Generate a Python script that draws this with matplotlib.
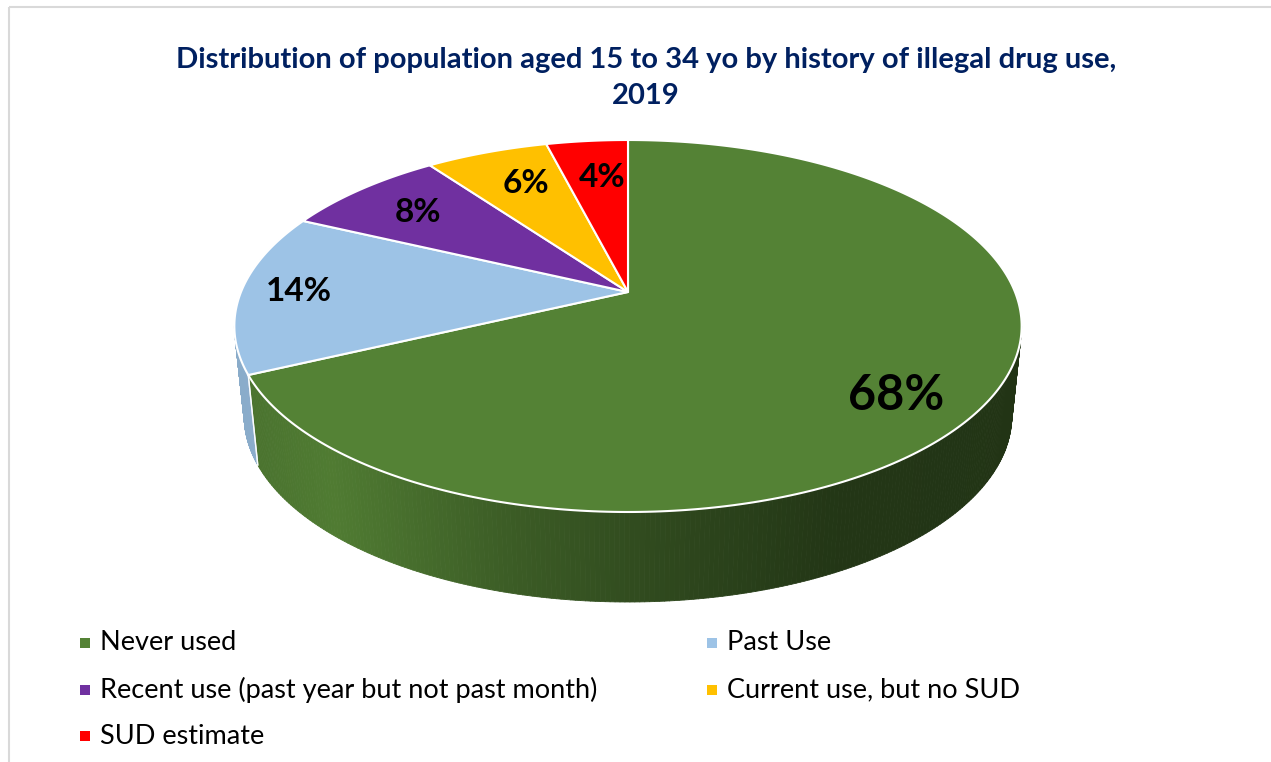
import matplotlib
matplotlib.use("Agg")
import matplotlib.pyplot as plt
import matplotlib.patches as patches
from matplotlib.collections import PolyCollection
import numpy as np
from matplotlib import rcParams

rcParams['font.family'] = ['Lato', 'DejaVu Sans']

# data
categories = ['Never used', 'Past Use', 'Recent use (past year but not past month)',
              'Current use, but no SUD', 'SUD estimate']
shares = [68, 14, 8, 6, 4]
labels = ['68%', '14%', '8%', '6%', '4%']
colors = ['#548235', '#9DC3E6', '#7030A0', '#FFC000', '#FF0000']

title = 'Distribution of population aged 15 to 34 yo by history of illegal drug use,\n2019'

# pie geometry (pixel space), perspective tilt
CX, CY = 628.0, 292.0      # apex of the slices
A, B = 387.0, 126.4        # horizontal / depth scale
P = 0.1828                 # perspective factor
DEPTH = 90.0               # thickness of the disc
DRIFT = 0.025              # side edges converge slightly

# label placement (radius in disc units, nudges in px)
label_r = [0.76, 0.85, 0.75, 0.75, 0.75]
label_dx = [0, 0, -4, 8, 6]
label_dy = [24, 0, 0, 0, 3]
label_size = [35, 24, 24, 24, 24]


def proj(theta, r=1.0):
    u = r * np.cos(theta)
    v = r * np.sin(theta)
    w = 1 + P * v
    return CX + A * u / w, (CY - B * v) / w


def drop(x, y):
    return x + (CX - x) * DRIFT, y + DEPTH


def side_shade(x):
    # horizontal light falloff across the front wall
    return np.interp(x, [240, 330, 500, 650, 830, 1030],
                     [0.88, 0.95, 0.72, 0.57, 0.42, 0.40])


fig = plt.figure(figsize=(12.71, 7.62), dpi=100)
ax = fig.add_axes([0, 0, 1, 1])
ax.set_xlim(0, 1271)
ax.set_ylim(762, 0)
ax.axis('off')

# chart frame
ax.add_patch(patches.Rectangle((9, 7), 1300, 800, fill=False,
                               edgecolor='#d9d9d9', linewidth=1.5))

fracs = np.array(shares, dtype=float) / sum(shares)
bounds = np.concatenate([[0], np.cumsum(fracs)])
starts = np.pi / 2 - 2 * np.pi * bounds[:-1]
ends = np.pi / 2 - 2 * np.pi * bounds[1:]

# front wall
for t0, t1, col in zip(starts, ends, colors):
    th = np.linspace(t0, t1, 400)
    vis = np.sin(th) <= -P
    if vis.sum() < 2:
        continue
    th = th[vis]
    x, y = proj(th)
    xb, yb = drop(x, y)
    base = np.array(matplotlib.colors.to_rgb(col))
    quads, fcs = [], []
    for i in range(len(th) - 1):
        quads.append([(x[i], y[i]), (x[i + 1], y[i + 1]),
                      (xb[i + 1], yb[i + 1]), (xb[i], yb[i])])
        xm = 0.5 * (x[i] + x[i + 1])
        fcs.append(np.clip(base * side_shade(xm), 0, 1))
    ax.add_collection(PolyCollection(quads, facecolors=fcs, edgecolors=fcs,
                                     linewidths=0.6, zorder=2))
    # seam at a slice boundary on the wall
    for t in (t0, t1):
        if np.sin(t) <= -P:
            xs, ys = proj(t)
            xe, ye = drop(xs, ys)
            ax.plot([xs, xe], [ys, ye], color='white', lw=1.0, alpha=0.8, zorder=3)

# top faces
for t0, t1, col in zip(starts, ends, colors):
    th = np.linspace(t0, t1, 300)
    x, y = proj(th)
    pts = np.column_stack([np.r_[CX, x], np.r_[CY, y]])
    ax.add_patch(patches.Polygon(pts, closed=True, facecolor=col,
                                 edgecolor='white', linewidth=1.5, zorder=4))

# value labels
mids = 0.5 * (starts + ends)
for m, lab, r, dx, dy, fs in zip(mids, labels, label_r, label_dx, label_dy, label_size):
    lx, ly = proj(m, r)
    ax.text(lx + dx, ly + dy, lab, fontsize=fs, fontweight='bold', color='black',
            ha='center', va='center', zorder=5)

# title
ax.text(646, 78, title, fontsize=21, fontweight='bold', color='#002060',
        ha='center', va='center', linespacing=1.45)

# legend, filled row by row in two columns
col_x = [80, 707]
row_y = [643, 690, 736]
for i, (name, col) in enumerate(zip(categories, colors)):
    mx, my = col_x[i % 2], row_y[i // 2]
    ax.add_patch(patches.Rectangle((mx, my - 5), 10, 10, facecolor=col,
                                   edgecolor='none'))
    ax.text(mx + 20, my, name, fontsize=19.5, color='black', ha='left', va='center')

plt.savefig('out.png', dpi=100, facecolor='white')
plt.close()
